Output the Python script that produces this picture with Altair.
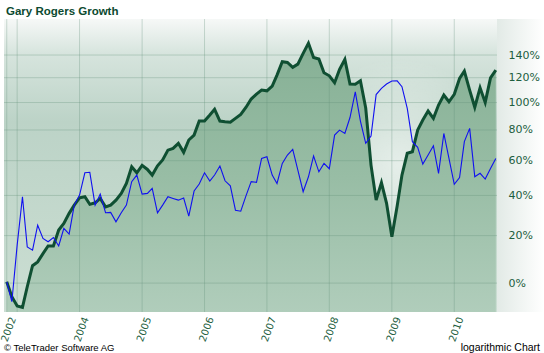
import altair as alt
import pandas as pd

title_text = "Gary Rogers Growth"
footer_left = "© TeleTrader Software AG"
footer_right = "logarithmic Chart"

# monthly growth in percent (log scale on 1 + growth)
gary = [0.5, -5.1, -8.4, -8.9, -1.4, 6.9, 8.5, 12.0, 15.3, 15.3,
        22.6, 25.7, 30.7, 34.9, 38.7, 39.3, 35.3, 36.1, 38.4, 34.0,
        34.9, 37.5, 41.1, 46.6, 56.3, 52.7, 57.1, 54.7, 51.4, 56.9,
        60.4, 66.6, 67.7, 71.0, 65.2, 73.2, 76.5, 86.3, 86.3, 90.6,
        94.8, 86.3, 85.8, 85.4, 88.2, 91.1, 96.4, 102.7, 106.6, 109.8,
        109.2, 113.1, 122.2, 133.9, 133.3, 128.9, 131.8, 141.5, 151.2, 137.8,
        136.3, 124.2, 121.6, 115.8, 127.1, 136.0, 114.7, 114.5, 117.4, 95.8,
        57.3, 37.5, 47.0, 35.8, 19.5, 34.4, 51.4, 64.6, 65.6, 79.9,
        87.0, 93.6, 88.2, 98.1, 105.8, 100.6, 106.4, 119.4, 125.6, 109.8,
        96.4, 111.6, 100.1, 119.9, 126.5]
benchmark = [0.5, -6.9, 15.7, 39.3, 14.9, 13.5, 24.9, 18.7, 17.2, 19.1,
             15.3, 23.4, 20.7, 34.9, 40.2, 52.7, 53.0, 34.9, 40.7, 31.0,
             31.2, 26.5, 31.0, 34.9, 47.6, 51.4, 40.7, 41.1, 43.8, 31.0,
             34.9, 39.3, 38.4, 37.5, 38.6, 29.3, 42.4, 46.3, 52.7, 47.9,
             51.4, 56.7, 48.1, 45.3, 32.3, 31.8, 39.9, 47.6, 47.2, 61.4,
             62.4, 51.4, 46.6, 58.3, 63.5, 67.1, 54.3, 42.0, 50.4, 62.9,
             53.3, 58.3, 55.1, 76.5, 79.9, 77.6, 88.8, 108.4, 86.3, 71.0,
             75.8, 106.2, 111.2, 114.7, 117.2, 117.4, 112.5, 95.6, 72.1, 68.4,
             57.9, 63.5, 69.4, 52.4, 77.6, 61.4, 46.1, 49.9, 72.1, 81.1,
             50.4, 52.4, 49.1, 55.3, 61.4]
start_month = "2002-11-01"
y_ticks = [0, 20, 40, 60, 80, 100, 120, 140]
x_ticks = ["2002-11-01", "2003-01-01", "2004-01-01", "2005-01-01", "2006-01-01",
           "2007-01-01", "2008-01-01", "2009-01-01", "2010-01-01"]

W, H = 493, 293

dates = pd.date_range(start_month, periods=len(gary), freq="MS")
df = pd.DataFrame({"date": dates.strftime("%Y-%m-%d"), "gary": gary, "bench": benchmark})


def dt(s):
    y, m, d = (int(p) for p in s.split("-"))
    return alt.DateTime(year=y, month=m, date=d, utc=True)


x_scale = alt.Scale(type="utc", domain=[dt("2002-10-16"), dt("2010-09-08")])
y_scale = alt.Scale(type="log", domain=[0.895, 2.756], nice=False, zero=False)

dark = "#0f4f32"
label_col = "#1d5e3e"

x_axis = alt.Axis(values=[dt(s) for s in x_ticks], grid=False, domain=False,
                  ticks=False, labelAngle=290, labelPadding=5, labelOffset=6,
                  labelFont="DejaVu Sans", labelFontSize=10, labelColor=label_col,
                  labelExpr="utcyear(datum.value) == 2003 ? '' : utcFormat(datum.value, '%Y')",
                  labelOverlap=False, title=None, zindex=1)
y_axis = alt.Axis(orient="right", values=[1 + v / 100 for v in y_ticks], grid=False,
                  domain=False, ticks=False, labelPadding=11,
                  labelFont="DejaVu Sans", labelFontSize=11, labelColor=label_col,
                  labelExpr="format(round((datum.value - 1) * 100), 'd') + '%'",
                  title=None, zindex=1)

base = alt.Chart(df).transform_calculate(
    g="1 + datum.gary / 100", b="1 + datum.bench / 100", floor="0.895"
)

one = alt.Data(values=[{"a": 1}])


def grad_v(stops):
    return alt.Gradient(gradient="linear", x1=0, x2=0, y1=0, y2=1,
                        stops=[alt.GradientStop(color=c, offset=o) for o, c in stops])


bg = alt.Chart(one).mark_rect(
    fill=grad_v([(0, "#f6f8f7"), (0.12, "#d6e4dd"), (0.35, "#bcd3c7"),
                 (0.7, "#c4d9cd"), (1, "#cbded3")]),
).encode(x=alt.value(0), x2=alt.value(W), y=alt.value(0), y2=alt.value(H))

glow = alt.Chart(one).mark_rect(
    fill=alt.Gradient(gradient="radial", x1=0.5, y1=0.5, r1=0, x2=0.5, y2=0.5, r2=0.5,
                      stops=[alt.GradientStop(color="rgba(255,255,255,0.6)", offset=0),
                             alt.GradientStop(color="rgba(255,255,255,0.35)", offset=0.5),
                             alt.GradientStop(color="rgba(255,255,255,0)", offset=1)]),
).encode(x=alt.value(320), x2=alt.value(470), y=alt.value(40), y2=alt.value(250))

side = alt.Chart(one).mark_rect(
    fill=alt.Gradient(
        gradient="linear", x1=0, x2=1, y1=0, y2=0,
        stops=[alt.GradientStop(color="#e2eae6", offset=0),
               alt.GradientStop(color="#ffffff", offset=1)]),
).encode(x=alt.value(W), x2=alt.value(W + 47), y=alt.value(0), y2=alt.value(H))

area = base.mark_area(
    color=grad_v([(0, "#86b095"), (0.5, "#98bda5"), (1, "#b0cdbb")]), opacity=1
).encode(
    x=alt.X("date:T", scale=x_scale, axis=x_axis),
    y=alt.Y("g:Q", scale=y_scale, axis=y_axis),
    y2=alt.Y2("floor:Q"),
)

grid_y = alt.Chart(pd.DataFrame({"t": y_ticks})).transform_calculate(
    v="1 + datum.t / 100"
).mark_rule(color="#5f8f77", opacity=0.3, strokeWidth=1).encode(
    y=alt.Y("v:Q", scale=y_scale, axis=y_axis)
)
grid_x = alt.Chart(pd.DataFrame({"d": x_ticks})).mark_rule(
    color="#5f8f77", opacity=0.3, strokeWidth=1
).encode(x=alt.X("d:T", scale=x_scale, axis=x_axis))

line_g = base.mark_line(color=dark, strokeWidth=3, strokeJoin="miter").encode(
    x=alt.X("date:T", scale=x_scale, axis=x_axis),
    y=alt.Y("g:Q", scale=y_scale, axis=y_axis),
)
line_b = base.mark_line(color="#1010f0", strokeWidth=1.1).encode(
    x=alt.X("date:T", scale=x_scale, axis=x_axis),
    y=alt.Y("b:Q", scale=y_scale, axis=y_axis),
)

title = alt.Chart(alt.Data(values=[{"t": title_text}])).mark_text(
    align="left", baseline="alphabetic", font="Liberation Sans", fontWeight="bold",
    fontSize=11.5, color="#0c4a30"
).encode(x=alt.value(2), y=alt.value(-4), text="t:N")
foot_l = alt.Chart(alt.Data(values=[{"t": footer_left}])).mark_text(
    align="left", baseline="alphabetic", font="Liberation Sans", fontSize=9.5, color="#000000"
).encode(x=alt.value(0), y=alt.value(H + 39), text="t:N")
foot_r = alt.Chart(alt.Data(values=[{"t": footer_right}])).mark_text(
    align="right", baseline="alphabetic", font="Liberation Sans", fontSize=10.5, color="#000000"
).encode(x=alt.value(W + 43), y=alt.value(H + 39), text="t:N")

chart = alt.layer(bg, glow, side, area, grid_y, grid_x, line_g, line_b,
                  title, foot_l, foot_r).properties(
    width=W, height=H,
    padding={"left": 4, "top": 19, "right": 47, "bottom": 41},
    autosize=alt.AutoSizeParams(type="none"),
    background="#ffffff",
).configure_view(stroke=None)

chart.save("out.html", embed_options={"renderer": "svg", "actions": False})
